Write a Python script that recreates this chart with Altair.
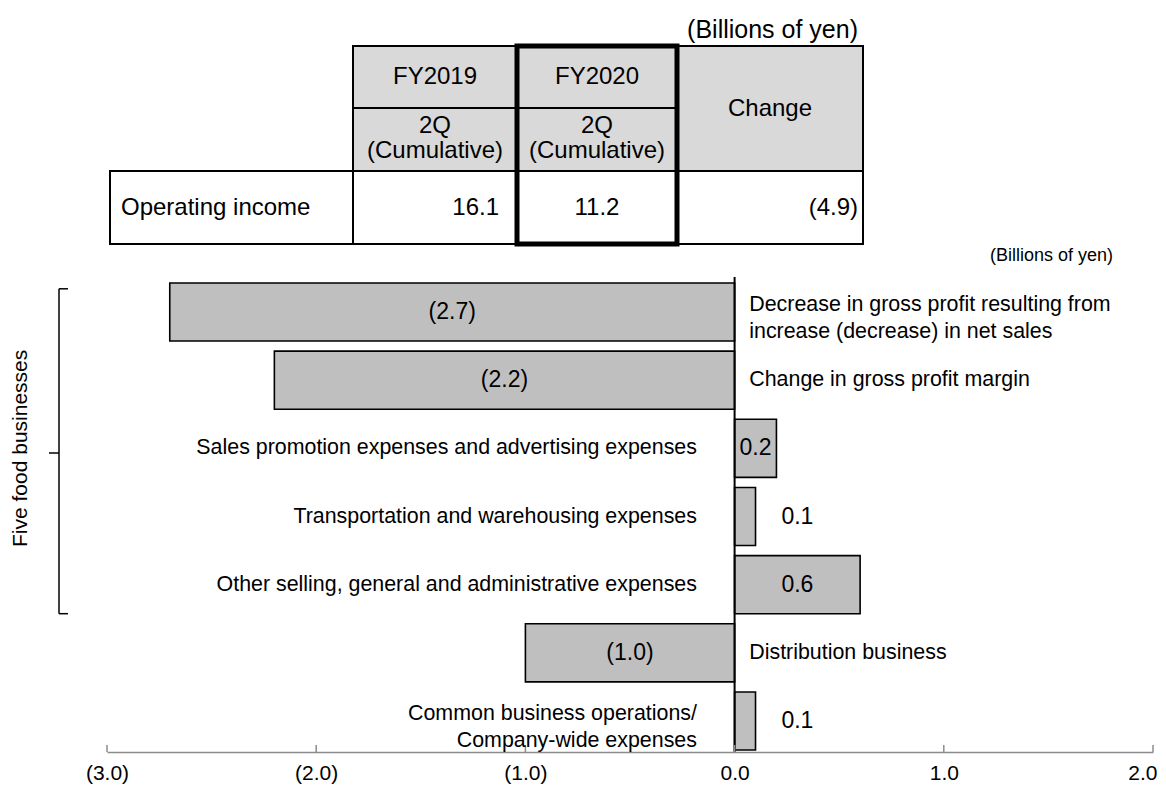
import altair as alt
import pandas as pd

# ---------------- data ----------------
categories = [
    "Decrease in gross profit resulting from\nincrease (decrease) in net sales",
    "Change in gross profit margin",
    "Sales promotion expenses and advertising expenses",
    "Transportation and warehousing expenses",
    "Other selling, general and administrative expenses",
    "Distribution business",
    "Common business operations/\nCompany-wide expenses",
]
values = [-2.7, -2.2, 0.2, 0.1, 0.6, -1.0, 0.1]
tick_values = [-3, -2, -1, 0, 1, 2]
group_label = "Five food businesses"
unit_label = "(Billions of yen)"
table_years = ["FY2019", "FY2020"]
table_period = "2Q\n(Cumulative)"
table_change_header = "Change"
table_row_label = "Operating income"
operating_income = [16.1, 11.2]

FONT = "Liberation Sans"


def paren(v):
    return f"({abs(v):.1f})" if v < 0 else f"{v:.1f}"


# ---------------- bar chart part ----------------
bars = pd.DataFrame({"cat": categories, "value": values})
bars["label"] = [paren(v) for v in values]
bars["label_x"] = [v / 2 if abs(v) >= 0.15 else 0.3 for v in values]
bars["text_x"] = [0.07 if v < 0 else -0.18 for v in values]

W, H = 1046, 744
x_scale = alt.Scale(domain=[-3, 2], nice=False, zero=False)
y_scale = alt.Scale(domain=categories, range=[275, 742], paddingInner=0.148, paddingOuter=0)
last_tick = f"datum.value == {tick_values[-1]}"
x_axis = alt.Axis(
    values=tick_values,
    labelExpr="datum.value < 0 ? '(' + format(-datum.value, '.1f') + ')' : format(datum.value, '.1f')",
    title=None, grid=False, ticks=False, domain=True, domainColor="#8C8C8C", domainWidth=1.5,
    labelFont=FONT, labelFontSize=21, labelColor="black", labelPadding=10,
    labelFlush=False, labelOverlap=False,
    labelAlign={"condition": {"test": last_tick, "value": "right"}, "value": "center"},
    labelOffset={"condition": {"test": last_tick, "value": 4}, "value": 0},
)
y_enc = alt.Y("cat:N", scale=y_scale, axis=None, sort=categories)

base = alt.Chart(bars)
bar_layer = base.mark_bar(fill="#BFBFBF", stroke="black", strokeWidth=1.6).encode(
    x=alt.X("value:Q", scale=x_scale, axis=x_axis), x2=alt.datum(0), y=y_enc
)
zero_df = pd.DataFrame({"z": [0]})
zero_line = alt.Chart(zero_df).mark_rule(color="black", strokeWidth=2).encode(
    x=alt.X("z:Q", scale=x_scale, axis=x_axis), y=alt.value(269), y2=alt.value(H)
)
tick_layer = alt.Chart(pd.DataFrame({"t": tick_values})).mark_rule(color="#8C8C8C", strokeWidth=1.5).encode(
    x=alt.X("t:Q", scale=x_scale, axis=x_axis), y=alt.value(H - 7), y2=alt.value(H)
)
val_text = base.mark_text(font=FONT, fontSize=23, color="black", baseline="middle").encode(
    x=alt.X("label_x:Q", scale=x_scale, axis=x_axis), y=y_enc, text="label:N"
)

cat_layers = []
for side_test, al in [("datum.value < 0", "left"), ("datum.value > 0", "right")]:
    for multi in [False, True]:
        line_test = "indexof(datum.cat, '\\n') >= 0" if multi else "indexof(datum.cat, '\\n') < 0"
        cat_layers.append(
            base.transform_filter(side_test).transform_filter(line_test).mark_text(
                font=FONT, fontSize=21.4, color="black", align=al, baseline="middle",
                lineBreak="\n", lineHeight=27, dy=-7 if multi else 0,
            ).encode(x=alt.X("text_x:Q", scale=x_scale, axis=x_axis), y=y_enc, text="cat:N")
        )

brk = pd.DataFrame({"top": [categories[0]], "bottom": [categories[4]], "mid": [categories[2]]})
brk_base = alt.Chart(brk)
v_line = brk_base.mark_rule(color="black", strokeWidth=1.5).encode(
    x=alt.value(-48),
    y=alt.Y("top:N", scale=y_scale, axis=None, bandPosition=0.1),
    y2=alt.Y2("bottom:N", bandPosition=1.0),
)
top_hook = brk_base.mark_rule(color="black", strokeWidth=1.5).encode(
    x=alt.value(-48), x2=alt.value(-39), y=alt.Y("top:N", scale=y_scale, axis=None, bandPosition=0.1)
)
bot_hook = brk_base.mark_rule(color="black", strokeWidth=1.5).encode(
    x=alt.value(-48), x2=alt.value(-39), y=alt.Y("bottom:N", scale=y_scale, axis=None, bandPosition=1.0)
)
nub = brk_base.mark_rule(color="black", strokeWidth=1.5).encode(
    x=alt.value(-58), x2=alt.value(-48), y=alt.Y("mid:N", scale=y_scale, axis=None, bandPosition=0.58)
)
group_title = brk_base.mark_text(
    text=group_label, font=FONT, fontSize=21, color="black", angle=270, align="center", baseline="middle"
).encode(x=alt.value(-86), y=alt.Y("mid:N", scale=y_scale, axis=None, bandPosition=0.5))

bar_group = alt.layer(
    bar_layer, zero_line, tick_layer, val_text, *cat_layers,
    v_line, top_hook, bot_hook, nub, group_title,
)

# ---------------- table part ----------------
col_w = [243, 164, 160, 186]
row_h = [62, 63, 73]
cx = [0]
for w in col_w:
    cx.append(cx[-1] + w)
ry = [0]
for h in row_h:
    ry.append(ry[-1] + h)

HDR = "#D9D9D9"
cells = pd.DataFrame([
    dict(x0=cx[1], x1=cx[2], y0=ry[0], y1=ry[1], fill=HDR),
    dict(x0=cx[2], x1=cx[3], y0=ry[0], y1=ry[1], fill=HDR),
    dict(x0=cx[1], x1=cx[2], y0=ry[1], y1=ry[2], fill=HDR),
    dict(x0=cx[2], x1=cx[3], y0=ry[1], y1=ry[2], fill=HDR),
    dict(x0=cx[3], x1=cx[4], y0=ry[0], y1=ry[2], fill=HDR),
    dict(x0=cx[0], x1=cx[1], y0=ry[2], y1=ry[3], fill="white"),
    dict(x0=cx[1], x1=cx[2], y0=ry[2], y1=ry[3], fill="white"),
    dict(x0=cx[2], x1=cx[3], y0=ry[2], y1=ry[3], fill="white"),
    dict(x0=cx[3], x1=cx[4], y0=ry[2], y1=ry[3], fill="white"),
])
change_value = round(operating_income[1] - operating_income[0], 1)
row_mid = (ry[2] + ry[3]) / 2
texts = pd.DataFrame([
    dict(tx=(cx[1] + cx[2]) / 2, ty=(ry[0] + ry[1]) / 2, text=table_years[0], align="center"),
    dict(tx=(cx[2] + cx[3]) / 2, ty=(ry[0] + ry[1]) / 2, text=table_years[1], align="center"),
    dict(tx=(cx[3] + cx[4]) / 2, ty=(ry[0] + ry[2]) / 2, text=table_change_header, align="center"),
    dict(tx=(cx[2] + cx[3]) / 2, ty=row_mid, text=paren(operating_income[1]), align="center"),
    dict(tx=cx[0] + 11, ty=row_mid, text=table_row_label, align="left"),
    dict(tx=cx[2] - 18, ty=row_mid, text=paren(operating_income[0]), align="right"),
    dict(tx=cx[4] - 5, ty=row_mid, text=paren(change_value), align="right"),
])
subhdr = pd.DataFrame([
    dict(tx=(cx[1] + cx[2]) / 2, ty=(ry[1] + ry[2]) / 2, text=table_period),
    dict(tx=(cx[2] + cx[3]) / 2, ty=(ry[1] + ry[2]) / 2, text=table_period),
])
tx_scale = alt.Scale(domain=[0, cx[-1]], range=[3, 3 + cx[-1]], nice=False, zero=False)
ty_scale = alt.Scale(domain=[0, ry[-1]], range=[38, 38 + ry[-1]], nice=False, zero=False)
tx_enc = alt.X("tx:Q", scale=tx_scale, axis=None)
ty_enc = alt.Y("ty:Q", scale=ty_scale, axis=None)

cell_layer = alt.Chart(cells).mark_rect(stroke="black", strokeWidth=2).encode(
    x=alt.X("x0:Q", scale=tx_scale, axis=None), x2="x1:Q",
    y=alt.Y("y0:Q", scale=ty_scale, axis=None), y2="y1:Q",
    fill=alt.Fill("fill:N", scale=None),
)
txt_layers = []
for al in ["center", "left", "right"]:
    txt_layers.append(
        alt.Chart(texts).transform_filter(f"datum.align == '{al}'").mark_text(
            font=FONT, fontSize=24, color="black", align=al, baseline="middle"
        ).encode(x=tx_enc, y=ty_enc, text="text:N")
    )
sub_layer = alt.Chart(subhdr).mark_text(
    font=FONT, fontSize=24, color="black", align="center", baseline="middle",
    lineBreak="\n", lineHeight=25, dy=-14,
).encode(x=tx_enc, y=ty_enc, text="text:N")

box_df = pd.DataFrame([dict(x0=cx[2], x1=cx[3], y0=ry[0], y1=ry[3])])
thick_box = alt.Chart(box_df).mark_rect(fill="transparent", stroke="black", strokeWidth=5).encode(
    x=alt.X("x0:Q", scale=tx_scale, axis=None), x2="x1:Q",
    y=alt.Y("y0:Q", scale=ty_scale, axis=None), y2="y1:Q",
)
units_df = pd.DataFrame([
    dict(tx=cx[4] - 5, ty=-16, size=25, text=unit_label),
    dict(tx=1003, ty=210, size=18, text=unit_label),
])
units_layer = alt.Chart(units_df).mark_text(
    font=FONT, color="black", align="right", baseline="middle"
).encode(
    x=tx_enc, y=ty_enc, text="text:N",
    size=alt.Size("size:Q", scale=None, legend=None),
)

table_group = alt.layer(cell_layer, *txt_layers, sub_layer, thick_box, units_layer)

chart = (
    alt.layer(table_group, bar_group)
    .resolve_scale(x="independent", y="independent")
    .properties(
        width=W, height=H,
        padding={"left": 99, "top": 0, "right": 5, "bottom": 34},
        autosize=alt.AutoSizeParams(type="none"),
        background="white",
    )
    .configure_view(strokeOpacity=0)
)

chart.save("out.html", embed_options={"renderer": "svg", "actions": False})
